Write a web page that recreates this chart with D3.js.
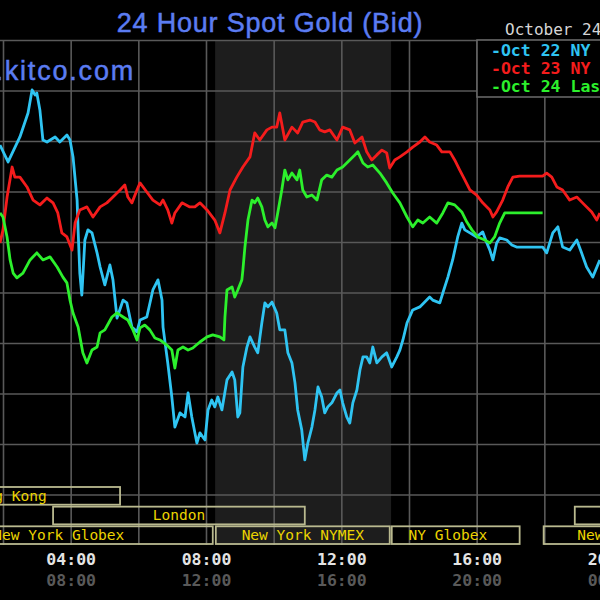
<!DOCTYPE html>
<html>
<head>
<meta charset="utf-8">
<script src="https://cdn.jsdelivr.net/npm/d3@7"></script>
<style>
	body { margin: 0; background: #000; }
	svg { display: block; }
</style>
</head>
<body>
<svg class="chart"></svg>
<script>
// hours are New York time, prices in US$ / oz (bid)
var oct22 = [
	[1.91,1715.84],[2.15,1715.17],[2.50,1716.16],[2.74,1717.11],[2.86,1718.02],[2.95,1717.82],[3.00,1717.90],[3.09,1717.23],
	[3.18,1716.04],[3.30,1715.96],[3.54,1716.16],[3.68,1715.96],[3.89,1716.24],[3.98,1716.04],[4.07,1715.37],[4.19,1713.66],
	[4.22,1712.48],[4.27,1710.77],[4.33,1709.90],[4.42,1712.08],[4.51,1712.48],[4.63,1712.36],[4.78,1711.57],[4.87,1711.01],
	[5.01,1710.30],[5.16,1711.09],[5.25,1710.50],[5.37,1708.99],[5.55,1709.70],[5.66,1709.59],[5.81,1708.63],[5.96,1708.44],
	[6.05,1708.91],[6.25,1709.03],[6.43,1710.10],[6.58,1710.50],[6.70,1709.70],[6.73,1708.63],[6.87,1707.21],[6.99,1705.86],
	[7.08,1704.67],[7.23,1705.23],[7.38,1705.07],[7.47,1706.02],[7.58,1705.07],[7.73,1704.04],[7.82,1704.44],[7.97,1704.16],
	[8.06,1705.35],[8.17,1705.74],[8.26,1705.47],[8.35,1705.86],[8.47,1705.35],[8.62,1706.54],[8.77,1706.85],[8.85,1706.54],
	[8.94,1705.07],[9.00,1705.23],[9.09,1707.05],[9.21,1707.84],[9.30,1708.24],[9.44,1707.84],[9.53,1707.61],[9.65,1708.79],
	[9.74,1709.59],[9.83,1709.43],[9.95,1709.62],[10.09,1709.19],[10.18,1708.52],[10.33,1708.52],[10.42,1707.61],[10.54,1707.21],
	[10.63,1706.42],[10.71,1705.35],[10.83,1704.56],[10.92,1703.37],[11.01,1704.04],[11.13,1704.67],[11.22,1705.35],[11.31,1706.26],
	[11.42,1705.86],[11.51,1705.23],[11.60,1705.47],[11.72,1705.63],[11.87,1706.02],[11.96,1706.14],[12.04,1705.63],[12.16,1705.07],
	[12.25,1704.83],[12.34,1705.63],[12.46,1706.14],[12.55,1706.93],[12.64,1707.45],[12.75,1707.45],[12.84,1707.21],[12.93,1707.84],
	[13.05,1707.21],[13.20,1707.45],[13.34,1707.61],[13.49,1707.05],[13.64,1707.45],[13.73,1707.72],[13.82,1708.12],[13.94,1708.79],
	[14.11,1709.31],[14.32,1709.43],[14.61,1709.82],[14.70,1709.70],[14.91,1709.59],[15.00,1709.98],[15.15,1710.61],[15.29,1711.29],
	[15.44,1712.20],[15.56,1712.75],[15.65,1712.48],[15.80,1712.36],[16.00,1712.20],[16.18,1712.40],[16.30,1711.96],[16.39,1711.68],
	[16.48,1711.29],[16.59,1711.96],[16.68,1712.16],[16.89,1712.08],[17.04,1711.88],[17.18,1711.80],[17.95,1711.80],[18.07,1711.57],
	[18.25,1712.36],[18.40,1712.60],[18.54,1711.80],[18.75,1711.68],[18.96,1712.08],[19.10,1711.57],[19.25,1711.01],[19.43,1710.61],
	[19.64,1711.29]
];

var oct23 = [
	[1.91,1711.96],[2.00,1712.48],[2.12,1713.78],[2.27,1714.97],[2.35,1714.57],[2.50,1714.57],[2.71,1714.18],[2.89,1713.66],
	[3.09,1713.47],[3.30,1713.74],[3.48,1713.55],[3.62,1713.15],[3.74,1712.36],[3.89,1712.20],[4.04,1711.68],[4.13,1712.75],
	[4.27,1713.27],[4.48,1713.39],[4.66,1712.99],[4.87,1713.39],[5.07,1713.55],[5.25,1713.78],[5.46,1714.06],[5.60,1714.26],
	[5.69,1713.78],[5.81,1713.55],[5.96,1714.06],[6.05,1714.34],[6.25,1713.98],[6.43,1713.66],[6.64,1713.47],[6.73,1713.66],
	[6.87,1713.27],[6.99,1712.75],[7.08,1713.15],[7.29,1713.55],[7.52,1713.39],[7.67,1713.39],[7.82,1713.55],[8.03,1713.27],
	[8.26,1712.87],[8.41,1712.36],[8.56,1713.15],[8.71,1714.06],[8.91,1714.57],[9.09,1714.97],[9.30,1715.37],[9.44,1716.32],
	[9.59,1716.04],[9.80,1716.44],[9.95,1716.55],[10.09,1716.55],[10.18,1717.11],[10.33,1716.04],[10.54,1716.55],[10.71,1716.32],
	[10.86,1716.75],[11.07,1716.83],[11.22,1716.75],[11.36,1716.44],[11.51,1716.36],[11.66,1716.44],[11.87,1716.04],[12.04,1716.55],
	[12.25,1716.44],[12.40,1715.92],[12.61,1716.16],[12.75,1715.57],[12.90,1715.25],[13.05,1715.45],[13.20,1715.64],[13.34,1715.53],
	[13.43,1714.93],[13.58,1715.25],[13.73,1715.37],[13.94,1715.57],[14.11,1715.76],[14.32,1715.96],[14.47,1716.16],[14.61,1715.96],
	[14.82,1715.84],[14.97,1715.57],[15.21,1715.57],[15.35,1715.25],[15.50,1714.85],[15.65,1714.46],[15.80,1714.06],[16.00,1713.86],
	[16.18,1713.55],[16.39,1713.27],[16.48,1712.99],[16.59,1713.19],[16.77,1713.66],[16.92,1714.18],[17.07,1714.57],[17.27,1714.61],
	[17.95,1714.61],[18.07,1714.73],[18.22,1714.57],[18.37,1714.18],[18.54,1714.06],[18.75,1713.66],[18.96,1713.78],[19.13,1713.55],
	[19.40,1713.19],[19.55,1712.87],[19.64,1713.15]
];

var oct24 = [
	[1.91,1713.15],[2.00,1712.99],[2.12,1712.20],[2.21,1711.29],[2.30,1710.77],[2.41,1710.58],[2.59,1710.77],[2.80,1711.29],
	[3.00,1711.57],[3.18,1711.29],[3.39,1711.41],[3.60,1711.01],[3.77,1710.61],[3.89,1710.38],[3.98,1709.70],[4.07,1709.19],
	[4.22,1708.63],[4.36,1707.61],[4.48,1707.21],[4.63,1707.72],[4.78,1707.84],[4.87,1708.40],[5.01,1708.52],[5.22,1709.03],
	[5.37,1709.19],[5.55,1709.03],[5.69,1708.91],[5.84,1708.52],[5.96,1708.12],[6.05,1708.60],[6.19,1708.71],[6.34,1708.52],
	[6.49,1708.20],[6.64,1708.12],[6.84,1707.92],[6.99,1707.72],[7.08,1707.01],[7.17,1707.72],[7.32,1707.84],[7.47,1707.72],
	[7.61,1707.80],[7.82,1708.04],[8.03,1708.24],[8.20,1708.32],[8.41,1708.24],[8.53,1708.12],[8.56,1709.03],[8.62,1710.10],
	[8.77,1710.22],[8.85,1709.82],[8.94,1710.10],[9.06,1710.50],[9.09,1710.89],[9.15,1711.80],[9.24,1712.87],[9.36,1713.66],
	[9.44,1713.55],[9.53,1713.74],[9.65,1713.39],[9.74,1712.87],[9.83,1712.60],[9.95,1712.75],[10.04,1712.56],[10.12,1713.15],
	[10.24,1714.06],[10.33,1714.85],[10.42,1714.46],[10.54,1714.73],[10.69,1714.46],[10.77,1714.85],[10.86,1714.06],[10.98,1713.78],
	[11.13,1713.86],[11.28,1713.66],[11.42,1714.46],[11.57,1714.65],[11.72,1714.57],[11.87,1714.85],[12.04,1714.97],[12.25,1715.25],
	[12.40,1715.45],[12.49,1715.57],[12.64,1715.13],[12.78,1714.97],[12.93,1715.05],[13.14,1714.73],[13.34,1714.34],[13.52,1713.94],
	[13.73,1713.55],[13.94,1712.99],[14.11,1712.60],[14.26,1712.87],[14.41,1712.75],[14.61,1712.99],[14.82,1712.75],[15.00,1713.15],
	[15.15,1713.55],[15.35,1713.47],[15.56,1713.19],[15.71,1712.79],[15.86,1712.48],[16.03,1712.20],[16.24,1712.08],[16.39,1711.96],
	[16.53,1712.20],[16.68,1712.75],[16.83,1713.15],[16.98,1713.15],[17.95,1713.15]
];

var seriesNames = ["-Oct 22 NY Close", "-Oct 23 NY Close", "-Oct 24 Last"];
var seriesColors = ["#2fc4f2", "#f41c1c", "#2cf02c"];

// market sessions (NY hours), row and where the label sits
var marketNames = ["Hong Kong", "London", "Hong Kong", "New York Globex", "New York NYMEX", "NY Globex", "New York Globex"];
var marketRows  = ["Hong Kong", "London", "London", "New York", "New York", "New York", "New York"];
var marketOpen  = [-1.2, 3.48, 18.90, -0.90, 8.29, 13.49, 17.98];
var marketClose = [5.46, 10.92, 26.0, 8.20, 13.43, 17.27, 23.80];
var marketLabel = [2.13, 7.20, 22.45, 3.65, 10.86, 15.15, 20.91];

var nymexShade = [8.27, 13.47];
var timeTicks = [4, 8, 12, 16, 20];
var gmtOffset = 4;

var chartWidth = 600;
var chartHeight = 600;
var plotTop = 40;
var plotBottom = 545;

var svg = d3.select(".chart").attr("width", chartWidth).attr("height", chartHeight);
svg.append("rect").attr("width", chartWidth).attr("height", chartHeight).attr("fill", "#000");
var chart = svg.append("g");

var x = d3.scaleLinear().domain([2, 20]).range([3, 612]);
var y = d3.scaleLinear().domain([1700, 1720]).range([plotBottom, plotTop]);
var rows = d3.scaleBand().domain(["Hong Kong", "London", "New York"]).range([487, 544]).paddingInner(0.1);

function pad(h) {
	h = ((h % 24) + 24) % 24;
	return (h < 10 ? "0" : "") + h + ":00";
}

function buildShade() {
	chart.append("rect")
		.attr("x", x(nymexShade[0]))
		.attr("y", plotTop)
		.attr("width", x(nymexShade[1]) - x(nymexShade[0]))
		.attr("height", plotBottom - plotTop)
		.attr("fill", "#1d1d1d");
}

function buildGrid() {
	var gx = chart.append("g")
		.attr("transform", "translate(0," + plotBottom + ")")
		.call(d3.axisBottom(x).tickValues(d3.range(2, 19, 2)).tickSize(-(plotBottom - plotTop)).tickFormat(""));
	var gy = chart.append("g")
		.call(d3.axisLeft(y).tickValues(d3.range(1702, 1721, 2)).tickSize(-chartWidth).tickFormat(""));
	[gx, gy].forEach(function(g) {
		g.select(".domain").remove();
		g.selectAll("line").attr("stroke", "#595959").attr("stroke-width", 1.6);
	});
}

function buildMarkets() {
	var m = chart.append("g").selectAll("g").data(marketNames).enter().append("g");
	m.append("rect")
		.attr("x", function(d, i) { return x(marketOpen[i]); })
		.attr("y", function(d, i) { return rows(marketRows[i]); })
		.attr("width", function(d, i) { return x(marketClose[i]) - x(marketOpen[i]); })
		.attr("height", rows.bandwidth())
		.attr("fill", "none")
		.attr("stroke", "#b9b98f")
		.attr("stroke-width", 1.8);
	m.append("text")
		.attr("x", function(d, i) { return x(marketLabel[i]); })
		.attr("y", function(d, i) { return rows(marketRows[i]) + rows.bandwidth() - 4; })
		.attr("text-anchor", "middle")
		.attr("font-family", "DejaVu Sans Mono, monospace")
		.attr("font-size", "14.5px")
		.attr("fill", "#ecd400")
		.text(function(d) { return d; });
}

function buildLines() {
	var line = d3.line()
		.x(function(d) { return x(d[0]); })
		.y(function(d) { return y(d[1]); });
	[oct22, oct23, oct24].forEach(function(s, i) {
		chart.append("path")
			.datum(s)
			.attr("d", line)
			.attr("fill", "none")
			.attr("stroke", seriesColors[i])
			.attr("stroke-width", 2.8)
			.attr("stroke-linejoin", "round");
	});
}

function buildXAxis() {
	var rowsOfTicks = [
		{ y: 553, color: "#e4e4e4", fmt: function(d) { return pad(d); } },
		{ y: 574, color: "#595959", fmt: function(d) { return pad(d + gmtOffset); } }
	];
	rowsOfTicks.forEach(function(r) {
		var g = chart.append("g")
			.attr("transform", "translate(0," + r.y + ")")
			.call(d3.axisBottom(x).tickValues(timeTicks).tickSize(0).tickPadding(0).tickFormat(r.fmt));
		g.select(".domain").remove();
		g.selectAll("text")
			.attr("fill", r.color)
			.attr("font-family", "DejaVu Sans Mono, monospace")
			.attr("font-weight", "bold")
			.attr("font-size", "16.5px");
	});
}

function buildLegend() {
	chart.append("rect")
		.attr("x", 477).attr("y", plotTop)
		.attr("width", 140).attr("height", 57)
		.attr("fill", "#000")
		.attr("stroke", "#666").attr("stroke-width", 1.6);
	chart.append("g").selectAll("text").data(seriesNames).enter().append("text")
		.attr("x", 491)
		.attr("y", function(d, i) { return 56 + i * 18; })
		.attr("fill", function(d, i) { return seriesColors[i]; })
		.attr("font-family", "DejaVu Sans Mono, monospace")
		.attr("font-weight", "bold")
		.attr("font-size", "16.5px")
		.text(function(d) { return d; });
}

function buildTitles() {
	chart.append("text")
		.attr("x", 270).attr("y", 32)
		.attr("text-anchor", "middle")
		.attr("font-family", "Liberation Sans, Arial, sans-serif")
		.attr("font-size", "27px")
		.attr("letter-spacing", "0.8px")
		.attr("fill", "#5b7cf2")
		.attr("stroke", "#5b7cf2").attr("stroke-width", 0.5)
		.text("24 Hour Spot Gold (Bid)");

	chart.append("text")
		.attr("x", 135).attr("y", 80)
		.attr("text-anchor", "end")
		.attr("font-family", "Liberation Sans, Arial, sans-serif")
		.attr("font-size", "27px")
		.attr("letter-spacing", "1.8px")
		.attr("fill", "#5b7cf2")
		.attr("stroke", "#5b7cf2").attr("stroke-width", 0.5)
		.text("www.kitco.com");

	chart.append("text")
		.attr("x", 505).attr("y", 35)
		.attr("font-family", "DejaVu Sans Mono, monospace")
		.attr("font-size", "16px")
		.attr("fill", "#d6d6d6")
		.text("October 24, 2012");
}

buildShade();
buildGrid();
buildMarkets();
buildLines();
buildLegend();
buildXAxis();
buildTitles();
</script>
</body>
</html>
